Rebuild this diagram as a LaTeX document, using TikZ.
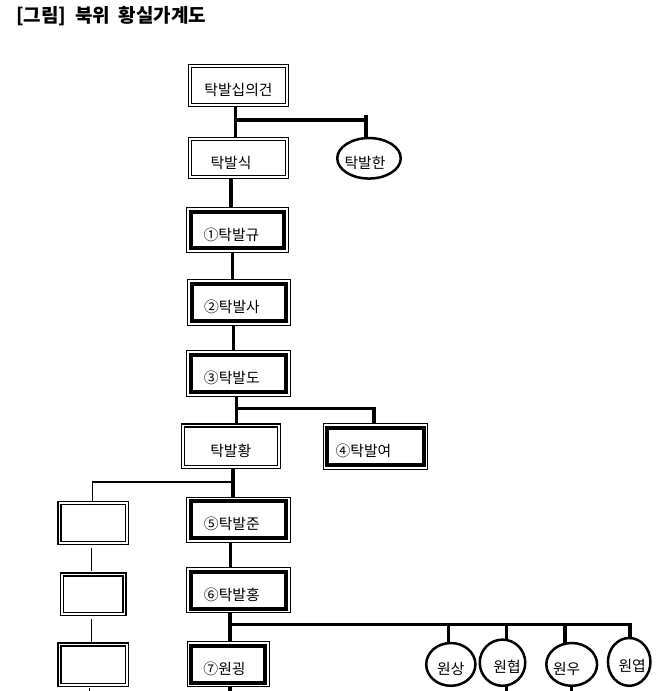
\documentclass[tikz,border=0pt]{standalone}
\usepackage{fontspec}
\setmainfont{Noto Sans CJK KR}
\newfontfamily\titlefont[WordSpace=2]{Noto Sans CJK KR}
\usetikzlibrary{backgrounds,shapes.geometric}
\newcommand{\nudge}[1]{\hspace*{#1}}
\tikzset{
  txt/.style={font=\fontsize{14.8}{17}\selectfont,inner sep=0pt,text height=20pt,text depth=0pt},
  dbox/.style={txt,draw,double,line width=1.4pt,double distance=1.6pt,fill=white},
  tbox/.style={txt,draw,line width=4pt,fill=white,
    preaction={draw,line width=9.4pt},preaction={draw,white,line width=7.4pt}},
  oval/.style={txt,ellipse,draw,line width=2.5pt,fill=white},
  tie/.style={line width=3.5pt},
  twig/.style={line width=1.1pt},
}
\begin{document}
\begin{tikzpicture}[x=1pt,y=-1pt]
\useasboundingbox (0,0) rectangle (668,691);
\node[anchor=north west,inner sep=0pt,font=\titlefont\bfseries\fontsize{19}{21}\selectfont] (title) at (16,6.5) {[그림] 북위 황실가계도};
% main line
\node[dbox,minimum width=96.6pt,minimum height=38.6pt] (sipui) at (238.5,85.5) {탁발십의건};
\node[dbox,minimum width=96.6pt,minimum height=37.6pt] (sik) at (238.5,158) {\nudge{-15pt}탁발식};
\node[oval,minimum width=63.5pt,minimum height=40.5pt] (han) at (369,158.3) {\nudge{-8pt}탁발한};
\node[tbox,minimum width=93.6pt,minimum height=36.6pt] (gyu) at (237.5,230) {\nudge{-12pt}①탁발규};
\node[tbox,minimum width=94pt,minimum height=37pt] (sa) at (239,302.5) {\nudge{-14pt}②탁발사};
\node[tbox,minimum width=95.3pt,minimum height=37.3pt] (do) at (238.3,373.3) {\nudge{-13pt}③탁발도};
\node[dbox,minimum width=95.9pt,minimum height=41.3pt] (hwang) at (230.8,446.2) {탁발황};
\node[tbox,minimum width=96.2pt,minimum height=37.6pt] (yeo) at (375.5,446.5) {\nudge{-24pt}④탁발여};
\node[tbox,minimum width=95.3pt,minimum height=36.6pt] (jun) at (238.3,519.7) {\nudge{-13pt}⑤탁발준};
\node[tbox,minimum width=95.3pt,minimum height=36.6pt] (hong) at (238.3,590.3) {\nudge{-13pt}⑥탁발홍};
\node[tbox,minimum width=73.6pt,minimum height=36.9pt] (goeng) at (228,664.2) {\nudge{-7pt}⑦원굉};
% empty boxes on the left
\node[dbox,minimum width=67.6pt,minimum height=39.6pt] (left1) at (93.3,523) {};
\node[dbox,minimum width=62.3pt,minimum height=39.3pt] (left2) at (93.3,594.2) {};
\node[dbox,minimum width=67.6pt,minimum height=40.3pt] (left3) at (93.3,664.7) {};
% sons of wongoeng
\node[oval,minimum width=49.2pt,minimum height=42.8pt] (sang) at (450.8,664.4) {원상};
\node[oval,minimum width=45.5pt,minimum height=46.2pt] (hyeop) at (502.5,662.7) {원협\nudge{-9pt}};
\node[oval,minimum width=50.8pt,minimum height=42.8pt] (u) at (571.7,664.4) {\nudge{-10pt}원우};
\node[oval,minimum width=42.5pt,minimum height=47.8pt] (yeop) at (629.2,661.9) {원엽\nudge{-6pt}};

\begin{scope}[on background layer]
\fill[white] (0,0) rectangle (668,691);
\coordinate (j1) at (235.7,120);
\coordinate (hanTick) at (366,115);
\coordinate (j3) at (236.7,408.3);
\coordinate (j4) at (232.7,482);
\coordinate (j5) at (230,624.3);
\coordinate (s1) at (230,691);
\coordinate (s2) at (506.7,691);
\coordinate (s3) at (571.7,691);
\coordinate (s4) at (89.3,691);
\draw[tie] (sipui.south -| j1) -- (sik.north -| j1);
\draw[tie] (j1) -- (j1 -| hanTick);
\draw[tie] (hanTick) -- (han.center -| hanTick);
\draw[tie] ([xshift=-7.5pt]sik.south) -- ([xshift=-7.5pt]sik.south |- gyu.north);
\draw[tie] ([xshift=-5.2pt]gyu.south) -- ([xshift=-5.2pt]gyu.south |- sa.north);
\draw[tie] ([xshift=-5.5pt]sa.south) -- ([xshift=-5.5pt]sa.south |- do.north);
\draw[tie] (do.south -| j3) -- (hwang.north -| j3);
\draw[tie] (j3) -| ([xshift=-1.5pt]yeo.north);
\draw[tie] ([xshift=2.2pt]hwang.south) -- ([xshift=2.2pt]hwang.south |- jun.north);
\draw[twig] (j4) -| ([xshift=-1pt]left1.north);
\draw[twig,shorten <=4pt,shorten >=3pt] ([xshift=-1.6pt]left1.south) -- ([xshift=-1.6pt]left1.south |- left2.north);
\draw[twig,shorten <=4pt,shorten >=1pt] ([xshift=-1.6pt]left2.south) -- ([xshift=-1.6pt]left2.south |- left3.north);
\draw[twig,shorten <=2pt] (left3.south -| s4) -- (s4);
\draw[tie] ([xshift=-7.6pt]jun.south) -- ([xshift=-7.6pt]jun.south |- hong.north);
\draw[tie] (hong.south -| j5) -- (goeng.north -| j5);
\draw[tie] (goeng.south -| s1) -- (s1);
\foreach \e/\x in {sang/448.3,hyeop/506.7,u/565,yeop/630}{
  \coordinate (tk\e) at (\x,622.6);
  \draw[tie] (tk\e) -- (tk\e |- \e.center);
}
\draw[tie] (j5) -- (j5 -| tkyeop);
\draw[tie] (hyeop.center -| s2) -- (s2);
\draw[tie] (u.center -| s3) -- (s3);
\end{scope}
\end{tikzpicture}
\end{document}
